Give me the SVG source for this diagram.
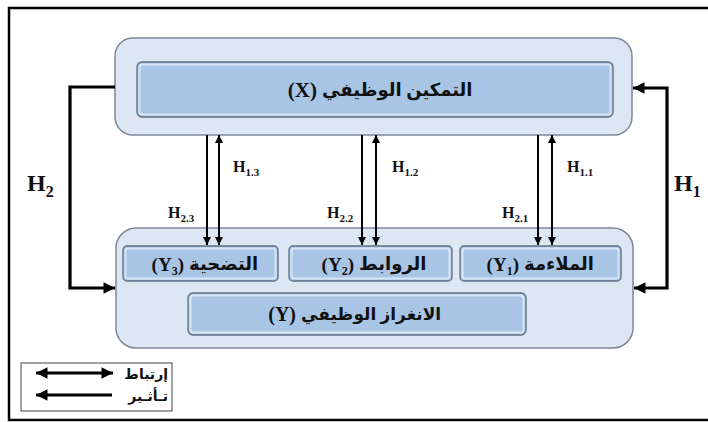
<svg xmlns="http://www.w3.org/2000/svg" width="708" height="422" viewBox="0 0 708 422">
<style>
.outer{fill:#dce7f3;stroke:#7c8899;stroke-width:1.5}
.bar{fill:#a9c5e5;stroke:#5f6f82;stroke-width:1.3}
.hl{fill:none;stroke:#ffffff;stroke-opacity:0.55;stroke-width:2}
.t{font-family:"Liberation Serif","DejaVu Sans",serif;font-weight:bold;fill:#111}
.ln{stroke:#000;stroke-width:2;fill:none}
.thk{stroke:#000;stroke-width:3.2;fill:none}
</style>
<defs>
<marker id="ah" viewBox="0 0 10 10" refX="10" refY="5" markerWidth="4" markerHeight="4" orient="auto-start-reverse" markerUnits="strokeWidth"><path d="M0,0L10,5L0,10z" fill="#000"/></marker>
<marker id="ahb" viewBox="0 0 10 10" refX="10" refY="5" markerWidth="3.6" markerHeight="3.6" orient="auto-start-reverse" markerUnits="strokeWidth"><path d="M0,0L10,5L0,10z" fill="#000"/></marker>
</defs>
<rect x="9" y="8" width="712" height="412" fill="#fff" stroke="#000" stroke-width="2.5"/>

<g id="node-x">
<rect class="outer" x="115" y="38" width="517" height="97" rx="18"/>
<rect class="bar" x="137" y="62" width="476" height="55" rx="5"/>
<rect class="hl" x="139.5" y="64.5" width="471" height="50" rx="3"/>
<text class="t" x="317" y="97" font-size="21" text-anchor="end">(X)</text>
<text class="t" x="322" y="96" font-size="18">التمكين الوظيفي</text>
</g>

<g id="node-y">
<rect class="outer" x="116" y="228" width="517" height="120" rx="20"/>
</g>
<g id="node-y3">
<rect class="bar" x="123" y="246" width="155" height="35" rx="4"/>
<rect class="hl" x="125.5" y="248.5" width="150" height="30" rx="3"/>
<text class="t" x="184" y="271" font-size="19" text-anchor="end">(Y<tspan font-size="12" dy="4">3</tspan><tspan dy="-4">)</tspan></text>
<text class="t" x="189" y="270" font-size="18">التضحية</text>
</g>
<g id="node-y2">
<rect class="bar" x="289" y="246" width="163" height="35" rx="4"/>
<rect class="hl" x="291.5" y="248.5" width="158" height="30" rx="3"/>
<text class="t" x="354" y="271" font-size="19" text-anchor="end">(Y<tspan font-size="12" dy="4">2</tspan><tspan dy="-4">)</tspan></text>
<text class="t" x="359" y="270" font-size="18">الروابط</text>
</g>
<g id="node-y1">
<rect class="bar" x="460" y="246" width="161" height="35" rx="4"/>
<rect class="hl" x="462.5" y="248.5" width="156" height="30" rx="3"/>
<text class="t" x="519" y="271" font-size="19" text-anchor="end">(Y<tspan font-size="12" dy="4">1</tspan><tspan dy="-4">)</tspan></text>
<text class="t" x="524" y="270" font-size="18">الملاءمة</text>
</g>
<g id="node-ybar">
<rect class="bar" x="188" y="293" width="338" height="42" rx="5"/>
<rect class="hl" x="190.5" y="295.5" width="333" height="37" rx="3"/>
<text class="t" x="296" y="321" font-size="20" text-anchor="end">(Y)</text>
<text class="t" x="301" y="320" font-size="17">الانغراز الوظيفي</text>
</g>

<g id="connectors">
<path class="ln" d="M207,135V245" marker-end="url(#ah)"/>
<path class="ln" d="M219,135V245" marker-start="url(#ah)" marker-end="url(#ah)"/>
<path class="ln" d="M362,135V245" marker-end="url(#ah)"/>
<path class="ln" d="M376,135V245" marker-start="url(#ah)" marker-end="url(#ah)"/>
<path class="ln" d="M538,135V245" marker-end="url(#ah)"/>
<path class="ln" d="M552,135V245" marker-start="url(#ah)" marker-end="url(#ah)"/>
<path class="thk" d="M115,87H70V288H115" marker-end="url(#ahb)"/>
<path class="thk" d="M633,88H667V288H634" marker-start="url(#ahb)" marker-end="url(#ahb)"/>
</g>

<g id="labels">
<text class="t" x="233" y="172" font-size="16">H<tspan font-size="11" dy="4">1.3</tspan></text>
<text class="t" x="392" y="172" font-size="16">H<tspan font-size="11" dy="4">1.2</tspan></text>
<text class="t" x="567" y="172" font-size="16">H<tspan font-size="11" dy="4">1.1</tspan></text>
<text class="t" x="168" y="218" font-size="16">H<tspan font-size="11" dy="4">2.3</tspan></text>
<text class="t" x="327" y="218" font-size="16">H<tspan font-size="11" dy="4">2.2</tspan></text>
<text class="t" x="502" y="218" font-size="16">H<tspan font-size="11" dy="4">2.1</tspan></text>
<text class="t" x="27" y="191" font-size="24">H<tspan font-size="16" dy="6">2</tspan></text>
<text class="t" x="674" y="191" font-size="24">H<tspan font-size="16" dy="6">1</tspan></text>
</g>

<g id="legend">
<rect x="21" y="363" width="151" height="48" fill="#fff" stroke="#444" stroke-width="1"/>
<path class="thk" d="M36,373H113" marker-start="url(#ahb)" marker-end="url(#ahb)"/>
<path class="thk" d="M36,395H112" marker-start="url(#ahb)"/>
<text class="t" x="168" y="379" font-size="14" text-anchor="end">إرتباط</text>
<text class="t" x="168" y="401" font-size="14" text-anchor="end">تـأثـير</text>
</g>
</svg>
